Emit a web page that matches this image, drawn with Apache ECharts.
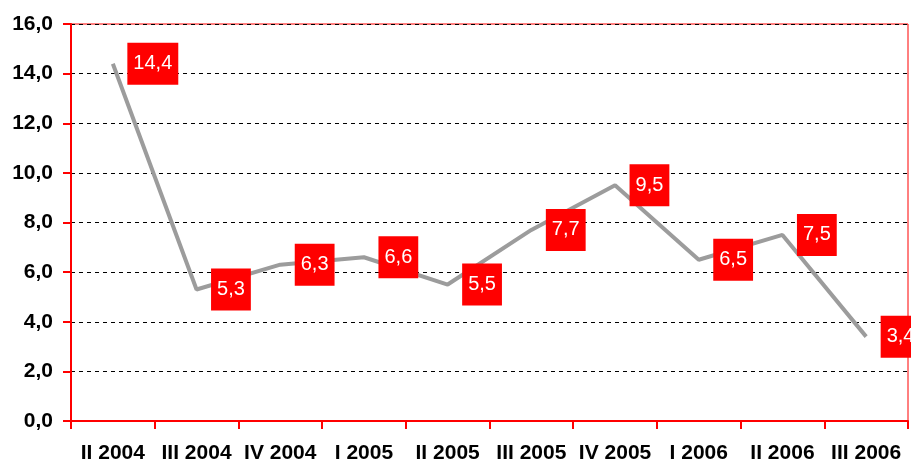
<!DOCTYPE html>
<html><head><meta charset="utf-8">
<script src="https://cdn.jsdelivr.net/npm/echarts@6/dist/echarts.min.js"></script>
<style>html,body{margin:0;padding:0;background:#fff}#c{width:911px;height:466px}</style>
</head><body><div id="c"></div>
<script>
var categories = ['II 2004','III 2004','IV 2004','I 2005','II 2005','III 2005','IV 2005','I 2006','II 2006','III 2006'];
var values = [14.4, 5.3, 6.3, 6.6, 5.5, 7.7, 9.5, 6.5, 7.5, 3.4];
var yMin = 0, yMax = 16, yStep = 2;

var chart = echarts.init(document.getElementById('c'));
chart.setOption({
  animation: false,
  backgroundColor: '#ffffff',
  grid: {left: 71, right: 3, top: 24, bottom: 45, show: true, borderColor: '#ff0000', borderWidth: 1},
  xAxis: {
    type: 'category', data: categories, boundaryGap: true,
    axisLine: {lineStyle: {color: '#ff0000', width: 2}},
    axisTick: {show: true, length: 8, alignWithLabel: false, lineStyle: {color: '#ff0000', width: 2}},
    axisLabel: {color: '#000', fontFamily: 'Liberation Sans, Arial', fontWeight: 'bold', fontSize: 21, margin: 22, interval: 0}
  },
  yAxis: {
    type: 'value', min: yMin, max: yMax, interval: yStep,
    axisLine: {show: true, lineStyle: {color: '#ff0000', width: 2}},
    axisTick: {show: true, length: 8, lineStyle: {color: '#ff0000', width: 2}},
    axisLabel: {color: '#000', fontFamily: 'Liberation Sans, Arial', fontWeight: 'bold', fontSize: 21, margin: 18,
      formatter: function (v) { return v.toFixed(1).replace('.', ','); }},
    splitLine: {show: true, lineStyle: {color: '#000', type: [4, 4], width: 1}}
  },
  series: [{
    type: 'line', data: values, symbol: 'circle', symbolSize: 1, showSymbol: true,
    itemStyle: {color: '#9c9c9c', opacity: 0},
    lineStyle: {color: '#9c9c9c', width: 4},
    label: {
      show: true, position: 'right', distance: 14, opacity: 1,
      backgroundColor: '#ff0000', color: '#ffffff',
      fontFamily: 'Liberation Sans, Arial', fontSize: 20, lineHeight: 20,
      padding: [11, 6, 11, 6],
      formatter: function (p) { return p.value.toFixed(1).replace('.', ','); }
    },
    labelLayout: {hideOverlap: false}
  }]
});
</script></body></html>
